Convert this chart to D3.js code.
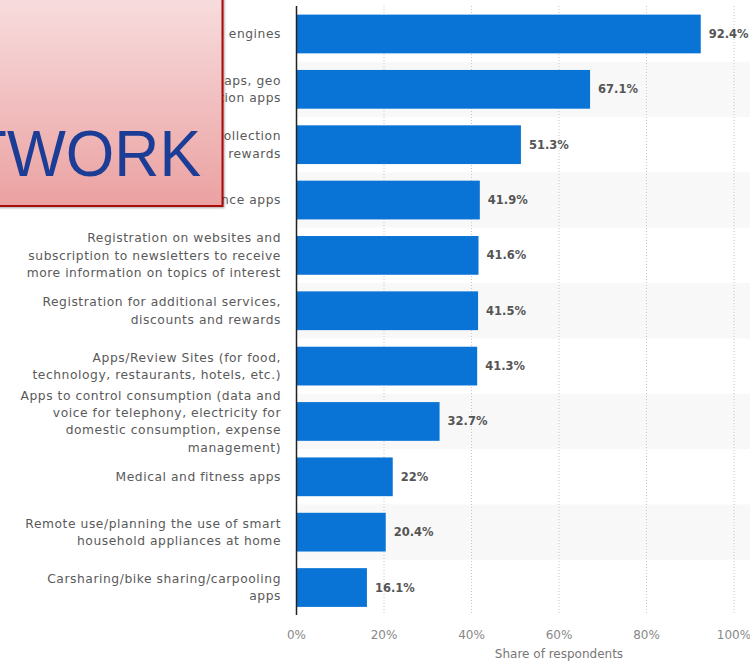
<!DOCTYPE html>
<html>
<head>
<meta charset="utf-8">
<script src="https://cdn.jsdelivr.net/npm/d3@7"></script>
<style>
  body { margin: 0; background: #fff; }
  svg { display: block; }
</style>
</head>
<body>
<svg id="chart" width="750" height="661"></svg>
<script>
// categories (label lines) and shares in percent
const categories = [
  ["Search engines"],
  ["Navigation apps, maps, geo", "localization apps"],
  ["Loyalty cards for points collection", "and rewards"],
  ["Mobile banking and finance apps"],
  ["Registration on websites and", "subscription to newsletters to receive", "more information on topics of interest"],
  ["Registration for additional services,", "discounts and rewards"],
  ["Apps/Review Sites (for food,", "technology, restaurants, hotels, etc.)"],
  ["Apps to control consumption (data and", "voice for telephony, electricity for", "domestic consumption, expense", "management)"],
  ["Medical and fitness apps"],
  ["Remote use/planning the use of smart", "household appliances at home"],
  ["Carsharing/bike sharing/carpooling", "apps"]
];
const values = [92.4, 67.1, 51.3, 41.9, 41.6, 41.5, 41.3, 32.7, 22, 20.4, 16.1];
const valueLabels = ["92.4%", "67.1%", "51.3%", "41.9%", "41.6%", "41.5%", "41.3%", "32.7%", "22%", "20.4%", "16.1%"];
const xTicks = [0, 20, 40, 60, 80, 100];
const axisTitle = "Share of respondents";
const overlayText = "NETWORK";

var svg = d3.select("#chart");
var font = "'DejaVu Sans', Verdana, sans-serif";

var x = d3.scaleLinear().domain([0, 100]).range([296.5, 734]);
var y = d3.scaleBand()
    .domain(d3.range(values.length))
    .range([6.3, 615.2])
    .paddingInner(0.3)
    .paddingOuter(0.15);
var step = y.step();

// alternating row stripes
svg.append("g").selectAll("rect")
  .data(d3.range(values.length).filter(function(i) { return i % 2 == 1; }))
  .enter().append("rect")
    .attr("x", x(0))
    .attr("y", function(i) { return y(i) - step * 0.15; })
    .attr("width", 750 - x(0))
    .attr("height", step)
    .attr("fill", "#f8f8f8");

// dotted grid
svg.append("g").selectAll("line")
  .data(xTicks.slice(1))
  .enter().append("line")
    .attr("x1", function(d) { return x(d); })
    .attr("x2", function(d) { return x(d); })
    .attr("y1", 6)
    .attr("y2", 615)
    .attr("stroke", "#c8c8c8")
    .attr("stroke-dasharray", "1,2");

// bars
svg.append("g").selectAll("rect")
  .data(values)
  .enter().append("rect")
    .attr("x", x(0))
    .attr("y", function(d, i) { return y(i); })
    .attr("width", function(d) { return x(d) - x(0); })
    .attr("height", y.bandwidth())
    .attr("fill", "#0a74d6");

// value labels
svg.append("g").selectAll("text")
  .data(values)
  .enter().append("text")
    .attr("x", function(d) { return x(d) + 8; })
    .attr("y", function(d, i) { return y(i) + y.bandwidth() / 2; })
    .attr("dy", "0.35em")
    .attr("font-family", font)
    .attr("font-size", "11.5px")
    .attr("font-weight", "bold")
    .attr("fill", "#555")
    .text(function(d, i) { return valueLabels[i]; });

// axis line
svg.append("line")
  .attr("x1", x(0)).attr("x2", x(0))
  .attr("y1", 6).attr("y2", 615)
  .attr("stroke", "#222").attr("stroke-width", 1.5);

// category labels
var lineH = 17.3;
svg.append("g").selectAll("text")
  .data(categories)
  .enter().append("text")
    .attr("text-anchor", "end")
    .attr("font-family", font)
    .attr("font-size", "12.3px")
    .attr("letter-spacing", "0.55px")
    .attr("fill", "#5a5a5a")
    .each(function(lines, i) {
      var cy = y(i) + y.bandwidth() / 2;
      var top = cy - (lines.length - 1) * lineH / 2;
      d3.select(this).selectAll("tspan")
        .data(lines)
        .enter().append("tspan")
          .attr("x", 281)
          .attr("y", function(l, j) { return top + j * lineH; })
          .attr("dy", "0.35em")
          .text(function(l) { return l; });
    });

// x tick labels
svg.append("g").selectAll("text")
  .data(xTicks)
  .enter().append("text")
    .attr("x", function(d) { return x(d); })
    .attr("y", 635)
    .attr("dy", "0.35em")
    .attr("text-anchor", "middle")
    .attr("font-family", font)
    .attr("font-size", "12px")
    .attr("fill", "#888")
    .text(function(d) { return d + "%"; });

svg.append("text")
  .attr("x", x(60))
  .attr("y", 658)
  .attr("text-anchor", "middle")
  .attr("font-family", font)
  .attr("font-size", "12px")
  .attr("fill", "#777")
  .text(axisTitle);

// overlay box on top left
var defs = svg.append("defs");
var grad = defs.append("linearGradient").attr("id", "pinkfill")
  .attr("x1", 0).attr("y1", 0).attr("x2", 0).attr("y2", 1);
grad.append("stop").attr("offset", "0%").attr("stop-color", "#f8dfe0");
grad.append("stop").attr("offset", "100%").attr("stop-color", "#eba1a1");
var shadow = defs.append("filter").attr("id", "shadow");
shadow.append("feDropShadow").attr("dx", 1).attr("dy", 1).attr("stdDeviation", 1.2)
  .attr("flood-color", "#000").attr("flood-opacity", 0.35);

svg.append("rect")
  .attr("x", -10).attr("y", -10)
  .attr("width", 232.5).attr("height", 216)
  .attr("fill", "url(#pinkfill)")
  .attr("stroke", "#a80c0c")
  .attr("stroke-width", 2)
  .attr("filter", "url(#shadow)");

svg.append("text")
  .attr("transform", "translate(201,176) scale(0.96,1)")
  .attr("text-anchor", "end")
  .attr("font-family", "'Liberation Sans', Arial, sans-serif")
  .attr("font-size", "65px")
  .attr("fill", "#1c3d96")
  .text(overlayText);
</script>
</body>
</html>
